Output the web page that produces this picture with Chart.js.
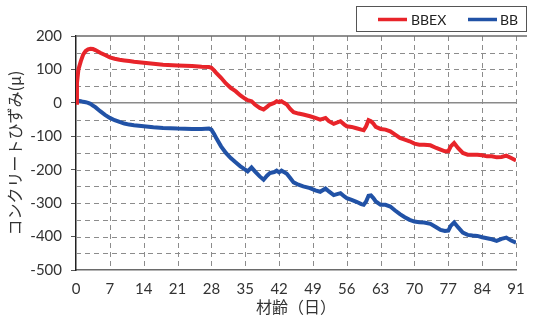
<!DOCTYPE html>
<html>
<head>
<meta charset="utf-8">
<script src="https://cdn.jsdelivr.net/npm/chart.js@4/dist/chart.umd.min.js"></script>
<style>
html,body{margin:0;padding:0;background:#fff;}
#wrap{width:536px;height:320px;position:relative;}
</style>
</head>
<body>
<div id="wrap"><canvas id="c" width="536" height="320"></canvas></div>
<script>
// ---- data ----
const seriesNames = ['BBEX', 'BB'];
const days = [0,0.2,0.5,1,1.5,2,2.5,3,3.5,4,5,6,7,8,9,10,11,12,14,16,18,21,24,26,27.5,28,28.5,29,30,31,32,33,34,35,35.5,36.3,37,38,38.8,39.5,40.1,41,41.5,42,42.5,43,43.6,44.3,45,46,47,48.4,49.5,50.5,51.6,52.3,53.3,54.7,55.5,56,57,58,59,59.5,60,60.5,61,61.5,62,63,64,65,66,67,68,69,70,71,72,73.3,74.5,75.4,76.3,77,77.5,78.2,79,80,81,82,83,84,85,86,87,88,89,90,91];
const bbex = [0,60,100,125,145,155,160,162,161,158,150,143,136,132,129,127,125,123,120,117,114,112,110,108,107,105,98,90,75,58,45,35,22,12,8,5,-5,-15,-20,-12,-5,0,5,2,5,0,-5,-18,-28,-32,-35,-40,-45,-50,-45,-55,-63,-55,-65,-70,-72,-76,-80,-82,-70,-52,-55,-62,-72,-78,-80,-85,-95,-105,-110,-115,-122,-125,-125,-127,-135,-140,-145,-145,-130,-120,-135,-150,-155,-155,-155,-157,-160,-160,-163,-162,-158,-165,-172];
const bb = [5,6,6,5,3,2,0,-3,-8,-13,-25,-36,-45,-52,-57,-62,-65,-67,-70,-73,-75,-77,-78,-78,-77,-80,-92,-105,-130,-150,-165,-178,-190,-200,-205,-193,-205,-220,-230,-218,-210,-207,-203,-208,-203,-207,-212,-225,-238,-245,-250,-255,-262,-266,-256,-265,-276,-270,-280,-285,-290,-296,-303,-305,-295,-278,-277,-285,-295,-305,-305,-310,-322,-333,-342,-350,-355,-357,-358,-362,-372,-380,-383,-382,-368,-358,-372,-388,-395,-397,-398,-402,-405,-408,-413,-407,-403,-412,-418];
const xTicks = [0,7,14,21,28,35,42,49,56,63,70,77,84,91];
const yTicks = [200,100,0,-100,-200,-300,-400,-500];
const yGrid = [150,100,50,-50,-100,-150,-200,-250,-300,-350,-400,-450];
const xTitle = '材齢（日）';
const yTitle = 'コンクリートひずみ(μ)';
const colors = ['#e8242a', '#2152a6'];

const FONT = 'Lato, "Open Sans", sans-serif';
const CJK = '"Noto Sans CJK JP", sans-serif';

function dashedLine(ctx, x1, y1, x2, y2) {
  const len = Math.hypot(x2 - x1, y2 - y1);
  const ux = (x2 - x1) / len, uy = (y2 - y1) / len;
  ctx.beginPath();
  for (let d = 0; d < len; d += 9) {
    const e = Math.min(d + 5, len);
    ctx.moveTo(x1 + ux * d, y1 + uy * d);
    ctx.lineTo(x1 + ux * e, y1 + uy * e);
  }
  ctx.stroke();
}

const decor = {
  id: 'decor',
  beforeDatasetsDraw(chart) {
    const {ctx, chartArea: a, scales: {x, y}} = chart;
    ctx.save();
    ctx.strokeStyle = '#8c8c8c';
    ctx.lineWidth = 1;
    xTicks.forEach(v => {
      if (v === 0) return;
      const px = Math.round(x.getPixelForValue(v)) + 0.5;
      dashedLine(ctx, px, a.top, px, a.bottom);
    });
    yGrid.forEach(v => {
      const py = Math.round(y.getPixelForValue(v)) + 0.5;
      dashedLine(ctx, a.left, py, a.right, py);
    });
    const y0 = y.getPixelForValue(0);
    ctx.strokeStyle = '#8a8a8a';
    ctx.lineWidth = 1.5;
    ctx.beginPath(); ctx.moveTo(a.left, y0); ctx.lineTo(a.right, y0); ctx.stroke();
    ctx.strokeStyle = '#6a6a6a';
    ctx.beginPath(); ctx.moveTo(a.left, a.top); ctx.lineTo(a.right + 11, a.top); ctx.stroke();
    ctx.restore();
  },
  afterDraw(chart) {
    const {ctx} = chart;
    ctx.save();
    ctx.strokeStyle = '#555';
    ctx.lineWidth = 1;
    ctx.strokeRect(356.5, 6.5, 170, 25);
    const items = [{x: 378, tx: 411}, {x: 468, tx: 500}];
    items.forEach((it, i) => {
      ctx.strokeStyle = colors[i];
      ctx.lineWidth = 3.5;
      ctx.beginPath(); ctx.moveTo(it.x, 19.5); ctx.lineTo(it.x + 29, 19.5); ctx.stroke();
      ctx.fillStyle = '#222';
      ctx.font = '14px ' + FONT;
      ctx.textBaseline = 'middle';
      ctx.textAlign = 'left';
      ctx.fillText(seriesNames[i], it.tx, 20);
    });
    ctx.restore();
  }
};

const mk = (vals) => days.map((d, i) => ({x: d, y: vals[i]}));

new Chart(document.getElementById('c'), {
  type: 'line',
  data: {
    datasets: [
      {label: seriesNames[0], data: mk(bbex), borderColor: colors[0], borderWidth: 4, pointRadius: 0, tension: 0, fill: false},
      {label: seriesNames[1], data: mk(bb), borderColor: colors[1], borderWidth: 4, pointRadius: 0, tension: 0, fill: false}
    ]
  },
  options: {
    responsive: false,
    animation: false,
    devicePixelRatio: 1,
    layout: {padding: {left: 0, right: 20, top: 36, bottom: 0}},
    plugins: {legend: {display: false}, tooltip: {enabled: false}},
    scales: {
      x: {
        type: 'linear', min: 0, max: 91,
        afterBuildTicks: (s) => { s.ticks = xTicks.map(v => ({value: v})); },
        afterFit: (s) => { s.height = 50; },
        ticks: {font: {family: FONT, size: 15}, color: '#333', padding: 10, maxRotation: 0, autoSkip: false},
        grid: {drawOnChartArea: false, drawTicks: false},
        border: {display: true, color: '#6a6a6a', width: 1.5},
        title: {display: true, text: xTitle, font: {family: CJK, size: 16}, color: '#333', padding: {top: 3, bottom: 3}}
      },
      y: {
        type: 'linear', min: -500, max: 200,
        ticks: {stepSize: 50, font: {family: FONT, size: 15}, color: '#333', padding: 9,
          callback: (v) => (yTicks.includes(v) ? String(v) : '')},
        afterFit: (s) => { s.width = 76; },
        grid: {drawOnChartArea: false, tickLength: 5,
          tickColor: (c) => (c.tick && yTicks.includes(c.tick.value) ? '#555' : 'rgba(0,0,0,0)')},
        border: {display: true, color: '#222', width: 1.5},
        title: {display: true, text: yTitle, font: {family: CJK, size: 16}, color: '#333', padding: {top: 5, bottom: 5}}
      }
    }
  },
  plugins: [decor]
});
</script>
</body>
</html>
